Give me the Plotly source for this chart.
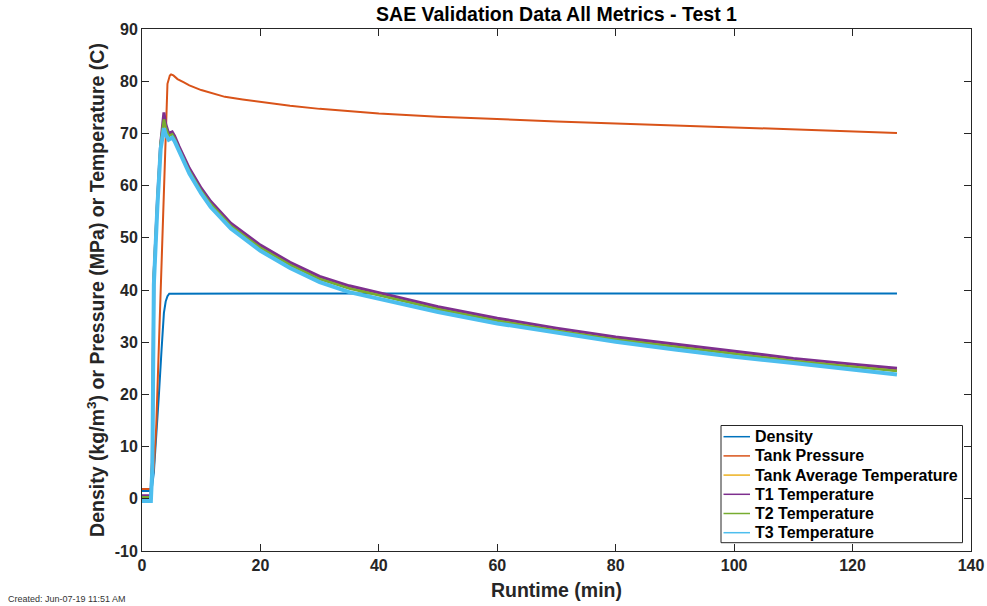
import plotly.graph_objects as go

# ---------------- data ----------------
density_t = [0, 1.6, 2.0, 2.4, 2.87, 3.3, 3.7, 4.0, 4.3, 4.6, 10, 20, 40, 60, 80, 100, 120, 127.5]
density_v = [1.5, 1.5, 5.0, 11.5, 20.2, 28.5, 35.6, 37.8, 38.8, 39.3, 39.3, 39.3, 39.3, 39.3, 39.35, 39.35, 39.35, 39.35]

pressure_t = [0, 1.5, 1.6, 2.0, 2.4, 4.3, 4.7, 4.9, 5.3, 6, 7, 8, 10, 12, 14, 17, 20, 25, 30, 40, 50, 60, 70, 80, 90, 100, 110, 120, 127.5]
pressure_v = [1.9, 1.9, 2.5, 6.0, 13.7, 79.5, 81.1, 81.3, 81.1, 80.4, 79.8, 79.2, 78.3, 77.6, 77.0, 76.5, 76.0, 75.3, 74.7, 73.8, 73.2, 72.7, 72.3, 71.9, 71.5, 71.1, 70.8, 70.4, 70.1]

temp_t = [0, 1.5, 1.75, 2.0, 2.6, 3.15, 3.7, 4.0, 4.5, 5.1, 5.5, 6.25, 8, 10, 11.6, 15, 20, 25, 30, 35, 40, 50, 60, 70, 80, 90, 100, 110, 120, 127.5]
t1_v   = [0.6, 0.6, 7.0, 42.0, 57.0, 68.0, 74.0, 71.8, 70.0, 70.3, 69.5, 67.5, 63.3, 59.5, 57.0, 52.8, 48.6, 45.3, 42.6, 40.8, 39.5, 36.8, 34.6, 32.7, 31.0, 29.6, 28.2, 26.9, 25.8, 25.0]
tavg_v = [0.1, 0.1, 7.0, 42.0, 56.8, 67.6, 72.0, 71.0, 69.6, 69.9, 69.1, 67.1, 62.9, 59.1, 56.6, 52.4, 48.2, 44.9, 42.2, 40.4, 39.1, 36.4, 34.2, 32.3, 30.6, 29.2, 27.8, 26.5, 25.4, 24.6]
t2_v   = [0.3, 0.3, 7.5, 43.0, 57.3, 68.2, 72.7, 71.2, 69.5, 69.8, 69.0, 67.0, 62.8, 59.0, 56.5, 52.3, 48.1, 44.8, 42.1, 40.3, 39.0, 36.3, 34.1, 32.2, 30.5, 29.1, 27.7, 26.4, 25.3, 24.5]
t3_v   = [-0.4, -0.4, 6.0, 41.0, 56.0, 67.0, 71.0, 69.8, 68.8, 69.2, 68.5, 66.6, 62.3, 58.5, 55.9, 51.8, 47.5, 44.2, 41.5, 39.6, 38.3, 35.8, 33.6, 31.8, 30.1, 28.6, 27.2, 26.0, 24.8, 23.8]

series = [
    ("Density", density_t, density_v, "#0072BD", 2),
    ("Tank Pressure", pressure_t, pressure_v, "#D95319", 2),
    ("Tank Average Temperature", temp_t, tavg_v, "#EDB120", 2.5),
    ("T1 Temperature", temp_t, t1_v, "#7E2F8E", 3),
    ("T2 Temperature", temp_t, t2_v, "#77AC30", 2.5),
    ("T3 Temperature", temp_t, t3_v, "#4DBEEE", 4),
]

x_ticks = [0, 20, 40, 60, 80, 100, 120, 140]
x_labels = ["0", "20", "40", "60", "80", "100", "120", "140"]
y_ticks = [-10, 0, 10, 20, 30, 40, 50, 60, 70, 80, 90]
y_labels = ["-10", "0", "10", "20", "30", "40", "50", "60", "70", "80", "90"]

FONT = "Arial, Liberation Sans, Helvetica, sans-serif"
AX = "#262626"

# plot-area geometry (pixels)
W, H = 987, 606
L, R, T, B = 142, 16, 29, 55
PW, PH = W - L - R, H - T - B


def px(xp):
    return (xp - L) / PW


def py(yp):
    return (H - B - yp) / PH


fig = go.Figure()
for name, t, v, color, w in series:
    fig.add_trace(go.Scatter(x=t, y=v, mode="lines", name=name,
                             line=dict(color=color, width=w), showlegend=False))

# legend box drawn in paper coordinates (MATLAB-style compact legend)
shapes = [dict(type="rect", xref="paper", yref="paper",
               x0=px(721), x1=px(962.5), y0=py(542.7), y1=py(425.5),
               line=dict(color=AX, width=1), fillcolor="white", layer="above")]
annotations = []
row0, step = 436.7, 19.2
for i, (name, t, v, color, w) in enumerate(series):
    yy = py(row0 + i * step)
    shapes.append(dict(type="line", xref="paper", yref="paper",
                       x0=px(723.5), x1=px(750), y0=yy, y1=yy,
                       line=dict(color=color, width=1.5), layer="above"))
    annotations.append(dict(text="<b>" + name + "</b>", xref="paper", yref="paper",
                            x=px(752.5), y=yy, xanchor="left", yanchor="middle",
                            showarrow=False,
                            font=dict(size=16, color="black", family=FONT)))

annotations.append(dict(text="Created: Jun-07-19 11:51 AM", xref="paper", yref="paper",
                        x=px(6), y=py(599), xanchor="left", yanchor="middle",
                        showarrow=False, font=dict(size=9, color="#333333", family=FONT)))

fig.update_layout(
    width=W, height=H,
    margin=dict(l=L, r=R, t=T, b=B, autoexpand=False),
    paper_bgcolor="white", plot_bgcolor="white",
    font=dict(family=FONT, color=AX),
    title=dict(text="<b>SAE Validation Data All Metrics - Test 1</b>",
               xref="paper", x=0.5, xanchor="center",
               yref="container", y=1 - 14 / H, yanchor="middle",
               font=dict(size=19.5, color="black", family=FONT)),
    showlegend=False,
    shapes=shapes,
    annotations=annotations,
)

fig.update_xaxes(range=[0, 140], tickvals=x_ticks, ticktext=x_labels, ticks="inside", ticklen=7,
                 tickcolor=AX, showline=True, linecolor=AX, linewidth=1, mirror="ticks",
                 showgrid=False, zeroline=False, ticklabeloverflow="allow", automargin=False,
                 tickfont=dict(size=16, color=AX, family=FONT, weight="bold"),
                 title=dict(text="<b>Runtime (min)</b>", standoff=10,
                            font=dict(size=19.5, color=AX, family=FONT)))
fig.update_yaxes(range=[-10, 90], tickvals=y_ticks, ticktext=y_labels, ticks="inside", ticklen=7,
                 tickcolor=AX, showline=True, linecolor=AX, linewidth=1, mirror="ticks",
                 showgrid=False, zeroline=False, ticklabeloverflow="allow", automargin=False,
                 tickfont=dict(size=16, color=AX, family=FONT, weight="bold"),
                 title=dict(text="<b>Density (kg/m<sup>3</sup>) or Pressure (MPa) or Temperature (C)</b>",
                            standoff=4, font=dict(size=19.5, color=AX, family=FONT)))

fig.write_html("out.html")
